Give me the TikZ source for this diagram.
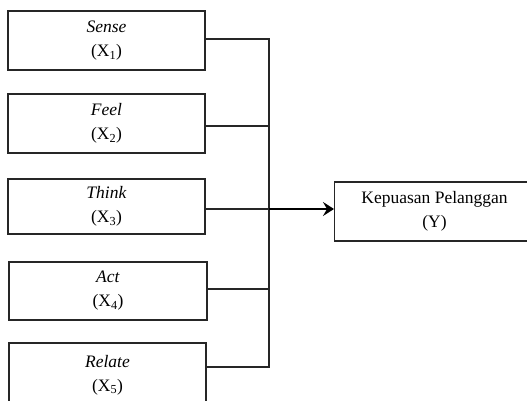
\documentclass[tikz,border=0pt]{standalone}
\usepackage{fontspec}
\setmainfont{Liberation Serif}
\usetikzlibrary{arrows.meta}
\begin{document}
\begin{tikzpicture}[x=1pt,y=-1pt,
  varbox/.style={draw=black!85,line width=1.1pt,rectangle,inner sep=0pt,
    minimum width=197pt,align=center,font=\fontsize{17.5}{24}\selectfont},
  link/.style={draw=black!85,line width=1.1pt},
  mainarrow/.style={draw=black,line width=2pt,-{Stealth[length=11pt,width=14pt,inset=4pt]}}]
\useasboundingbox (0,0) rectangle (527,401);
% independent variables
\node[varbox,minimum height=59pt] (b1) at (106.5,40.5) {\textit{Sense}\\(X\textsubscript{1})};
\node[varbox,minimum height=59pt] (b2) at (106.5,123.5) {\textit{Feel}\\(X\textsubscript{2})};
\node[varbox,minimum height=55pt] (b3) at (106.5,206.5) {\textit{Think}\\(X\textsubscript{3})};
\node[varbox,minimum height=58pt,minimum width=198pt] (b4) at (108,291) {\textit{Act}\\(X\textsubscript{4})};
\node[varbox,minimum height=64pt] (b5) at (107.5,375) {\textit{Relate}\\(X\textsubscript{5})};
% dependent variable
\node[varbox,minimum height=59pt,minimum width=200pt,anchor=west] (y) at (334,211.5) {Kepuasan Pelanggan\\(Y)};
% junction points on the collecting bus
\coordinate (j1) at (269,39);
\coordinate (j2) at (269,126);
\coordinate (j3) at (269,209);
\coordinate (j4) at (269,289);
\coordinate (j5) at (269,367);
\draw[link] (b1.east |- j1) -- (j1) -- (j5) -- (b5.east |- j5);
\draw[link] (b2.east |- j2) -- (j2);
\draw[link] (b3.east |- j3) -- (j3);
\draw[link] (b4.east |- j4) -- (j4);
\draw[mainarrow] (j3) -- (y.west |- j3);
\end{tikzpicture}
\end{document}
